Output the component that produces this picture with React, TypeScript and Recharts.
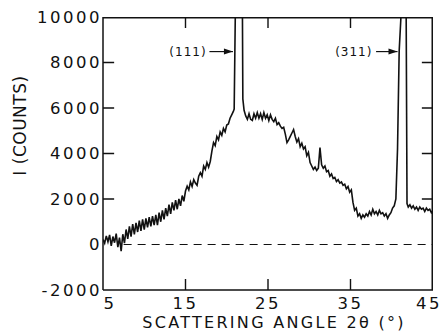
import { LineChart, Line, XAxis, YAxis, ReferenceLine, ReferenceDot } from 'recharts';

// scattering angle 2θ (degrees)
const angle = [
  5.0, 5.2, 5.4, 5.6, 5.8, 6.0, 6.2, 6.4, 6.6, 6.8, 7.0, 7.2, 7.4, 7.6, 7.8,
  8.0, 8.2, 8.4, 8.6, 8.8, 9.0, 9.2, 9.4, 9.6, 9.8, 10.0, 10.2, 10.4, 10.6, 10.8,
  11.0, 11.2, 11.4, 11.6, 11.8, 12.0, 12.2, 12.4, 12.6, 12.8, 13.0, 13.2, 13.4, 13.6, 13.8,
  14.0, 14.2, 14.4, 14.6, 14.8, 15.0, 15.2, 15.4, 15.6, 15.8, 16.0, 16.2, 16.4, 16.6, 16.8,
  17.0, 17.2, 17.4, 17.6, 17.8, 18.0, 18.2, 18.4, 18.6, 18.8, 19.0, 19.2, 19.4, 19.6, 19.8,
  20.0, 20.2, 20.4, 20.6, 20.8, 20.9, 21.1, 21.85, 21.95, 22.1, 22.3, 22.5, 22.7, 22.9,
  23.1, 23.3, 23.5, 23.7, 23.9, 24.1, 24.3, 24.5, 24.7, 24.9, 25.1, 25.3, 25.5, 25.7, 25.9,
  26.1, 26.3, 26.5, 26.7, 26.9, 27.1, 27.3, 27.5, 27.7, 27.9, 28.1, 28.3, 28.5, 28.7, 28.9,
  29.1, 29.3, 29.5, 29.7, 29.9, 30.1, 30.3, 30.5, 30.7, 30.9, 31.1, 31.3, 31.5, 31.7, 31.9,
  32.1, 32.3, 32.5, 32.7, 32.9, 33.1, 33.3, 33.5, 33.7, 33.9, 34.1, 34.3, 34.5, 34.7, 34.9,
  35.1, 35.3, 35.5, 35.7, 35.9, 36.1, 36.3, 36.5, 36.7, 36.9, 37.1, 37.3, 37.5, 37.7, 37.9,
  38.1, 38.3, 38.5, 38.7, 38.9, 39.1, 39.3, 39.5, 39.7, 39.9, 40.1, 40.3, 40.5, 40.7, 40.9,
  41.1, 41.25, 41.7, 41.85, 42.0, 42.2, 42.4, 42.6, 42.8, 43.0, 43.2, 43.4, 43.6, 43.8,
  44.0, 44.2, 44.4, 44.6, 44.8, 45.0,
];

// intensity I (counts); the two Bragg peaks run off the top of the frame
const counts = [
  220, 60, 380, 120, 420, -60, 350, 80, 480, -120, 300, -290, 450, 60, 660,
  250, 800, 350, 900, 450, 950, 550, 1050, 600, 1100, 650, 1150, 750, 1200, 800,
  1250, 850, 1300, 850, 1400, 1000, 1500, 1100, 1600, 1250, 1750, 1350, 1850, 1500, 1950,
  1550, 2000, 1700, 2150, 1900, 2350, 2560, 2400, 2750, 2550, 2850, 2700, 2600, 3000, 3160,
  3000, 3450, 3300, 3600, 3400, 3650, 4100, 4480, 4350, 4750, 4600, 4950, 4800, 5100, 4950,
  5250, 5300, 5550, 5700, 5850, 5950, 12000, 14000, 6400, 5900, 5650, 5500, 5750, 5500,
  5450, 5750, 5550, 5800, 5550, 5750, 5500, 5800, 5550, 5700, 5450, 5700, 5500, 5400, 5550,
  5270, 5350, 5200, 5100, 5150, 4850, 4480, 4600, 4750, 4900, 5050, 4750, 4500, 4650, 4300,
  4450, 4200, 4300, 3900, 4050, 3600, 3450, 3300, 3400, 3250, 3350, 4260, 3500, 3350, 3450,
  3200, 3250, 3000, 3100, 2900, 2950, 2770, 2850, 2700, 2750, 2600, 2650, 2450, 2550, 2300,
  2400, 1850, 1500, 1600, 1250, 1350, 1150, 1300, 1200, 1350, 1250, 1450, 1300, 1550, 1350,
  1450, 1300, 1500, 1350, 1400, 1250, 1350, 1150, 1300, 1400, 1600, 1700, 2000, 4200, 8500,
  9900, 14000, 14000, 1800, 1650, 1750, 1600, 1700, 1550, 1650, 1500, 1650, 1550, 1600,
  1450, 1600, 1500, 1550, 1400, 1500,
];

const xTicks = [5, 15, 25, 35, 45];
const yTicks = [-2000, 0, 2000, 4000, 6000, 8000, 10000];
const innerXTicks = [15, 25, 35];
const innerYTicks = [2000, 4000, 6000, 8000];

// peak labels: text, where the text sits, arrow start and arrow tip
const peakLabels = ['(111)', '(311)'];
const labelAngle = [15.3, 35.4];
const arrowFrom = [17.9, 38.1];
const arrowTo = [20.75, 40.7];
const labelCounts = 8480;

const data = angle.map((a, i) => ({ angle: a, counts: counts[i] }));

const X0 = 5;
const X1 = 45;
const Y0 = -2000;
const Y1 = 10000;
// inward tick length in data units (about 11px)
const tickLenX = 1.35;
const tickLenY = 480;

type P = { angle: number; v: number | null };
// top and right sides of the box
const frameData: P[] = [
  { angle: X0, v: Y1 },
  { angle: X1, v: Y1 },
  { angle: X1, v: Y0 },
];
// inward tick marks, each a short run broken off by a null point
const tickData: P[] = [
  ...innerXTicks.flatMap((t) => [
    { angle: t, v: Y0 },
    { angle: t, v: Y0 + tickLenY },
    { angle: t, v: null },
    { angle: t, v: Y1 },
    { angle: t, v: Y1 - tickLenY },
    { angle: t, v: null },
  ]),
  ...innerYTicks.flatMap((t) => [
    { angle: X0, v: t },
    { angle: X0 + tickLenX, v: t },
    { angle: X0 + tickLenX, v: null },
    { angle: X1, v: t },
    { angle: X1 - tickLenX, v: t },
    { angle: X1 - tickLenX, v: null },
  ]),
];

const font = "'DejaVu Sans', sans-serif";
const ink = '#111';

const XTick = (props: any) => {
  const { x, y, payload } = props;
  // end labels sit a little inside the frame, as in the original
  const shift = payload.value === 5 ? 7 : payload.value === 45 ? -4 : 0;
  return (
    <text
      x={x + shift}
      y={y}
      dy="0.72em"
      textAnchor="middle"
      style={{ fontSize: 16.5, fill: ink, fontFamily: font, letterSpacing: 2.5 }}
    >
      {payload.value}
    </text>
  );
};

export default function App() {
  return (
    <div style={{ position: 'absolute', left: 0, top: 0, background: '#fff' }}>
      <LineChart width={446} height={335} data={data} margin={{ top: 17, right: 13, bottom: 0, left: 0 }}>
        <XAxis
          dataKey="angle"
          type="number"
          domain={[X0, X1]}
          ticks={xTicks}
          allowDataOverflow
          height={45}
          stroke={ink}
          strokeWidth={1.5}
          tickLine={false}
          tickSize={0}
          tickMargin={7}
          tick={<XTick />}
          label={{
            value: 'SCATTERING ANGLE 2θ (°)',
            position: 'insideBottom',
            offset: 7,
            dx: 6,
            style: { fontSize: 16, fill: ink, fontFamily: font, letterSpacing: 2.3 },
          }}
        />
        <YAxis
          type="number"
          domain={[Y0, Y1]}
          ticks={yTicks}
          allowDataOverflow
          width={103}
          stroke={ink}
          strokeWidth={1.5}
          tickLine={false}
          tickSize={0}
          tickMargin={1}
          tick={{ fontSize: 16.5, fill: ink, fontFamily: font, letterSpacing: 2.5 }}
          label={{
            content: (props: any) => {
              const vb = props.viewBox;
              const cx = vb.x + 20;
              const cy = vb.y + vb.height / 2 - 28;
              return (
                <text
                  x={cx}
                  y={cy}
                  transform={`rotate(-90 ${cx} ${cy})`}
                  textAnchor="middle"
                  dominantBaseline="central"
                  style={{ fontSize: 17, fill: ink, fontFamily: font, letterSpacing: 0.5 }}
                >
                  I (COUNTS)
                </text>
              );
            },
          }}
        />
        <ReferenceLine
          segment={[{ x: 7.5, y: 0 }, { x: X1, y: 0 }]}
          stroke={ink}
          strokeWidth={1.2}
          strokeDasharray="8 6"
        />
        <Line
          data={frameData}
          dataKey="v"
          type="linear"
          stroke={ink}
          strokeWidth={3}
          dot={false}
          activeDot={false}
          isAnimationActive={false}
        />
        <Line
          data={tickData}
          dataKey="v"
          type="linear"
          stroke={ink}
          strokeWidth={1.4}
          dot={false}
          activeDot={false}
          connectNulls={false}
          isAnimationActive={false}
        />
        <Line
          dataKey="counts"
          type="linear"
          stroke={ink}
          strokeWidth={1.6}
          dot={false}
          isAnimationActive={false}
        />
        {peakLabels.map((t, i) => (
          <ReferenceLine
            key={`arrow-${i}`}
            segment={[{ x: arrowFrom[i], y: labelCounts }, { x: arrowTo[i], y: labelCounts }]}
            stroke={ink}
            strokeWidth={1.2}
          />
        ))}
        {peakLabels.map((t, i) => (
          <ReferenceDot
            key={`head-${i}`}
            x={arrowTo[i]}
            y={labelCounts}
            r={0}
            shape={(p: any) => <path d={`M${p.cx},${p.cy} l-9,-3 l0,6 z`} fill={ink} />}
          />
        ))}
        {peakLabels.map((t, i) => (
          <ReferenceDot
            key={`label-${i}`}
            x={labelAngle[i]}
            y={labelCounts}
            r={0}
            shape={(p: any) => (
              <text
                x={p.cx}
                y={p.cy}
                textAnchor="middle"
                dominantBaseline="central"
                style={{ fontSize: 12, fill: ink, fontFamily: font, letterSpacing: 1 }}
              >
                {t}
              </text>
            )}
          />
        ))}
      </LineChart>
    </div>
  );
}
